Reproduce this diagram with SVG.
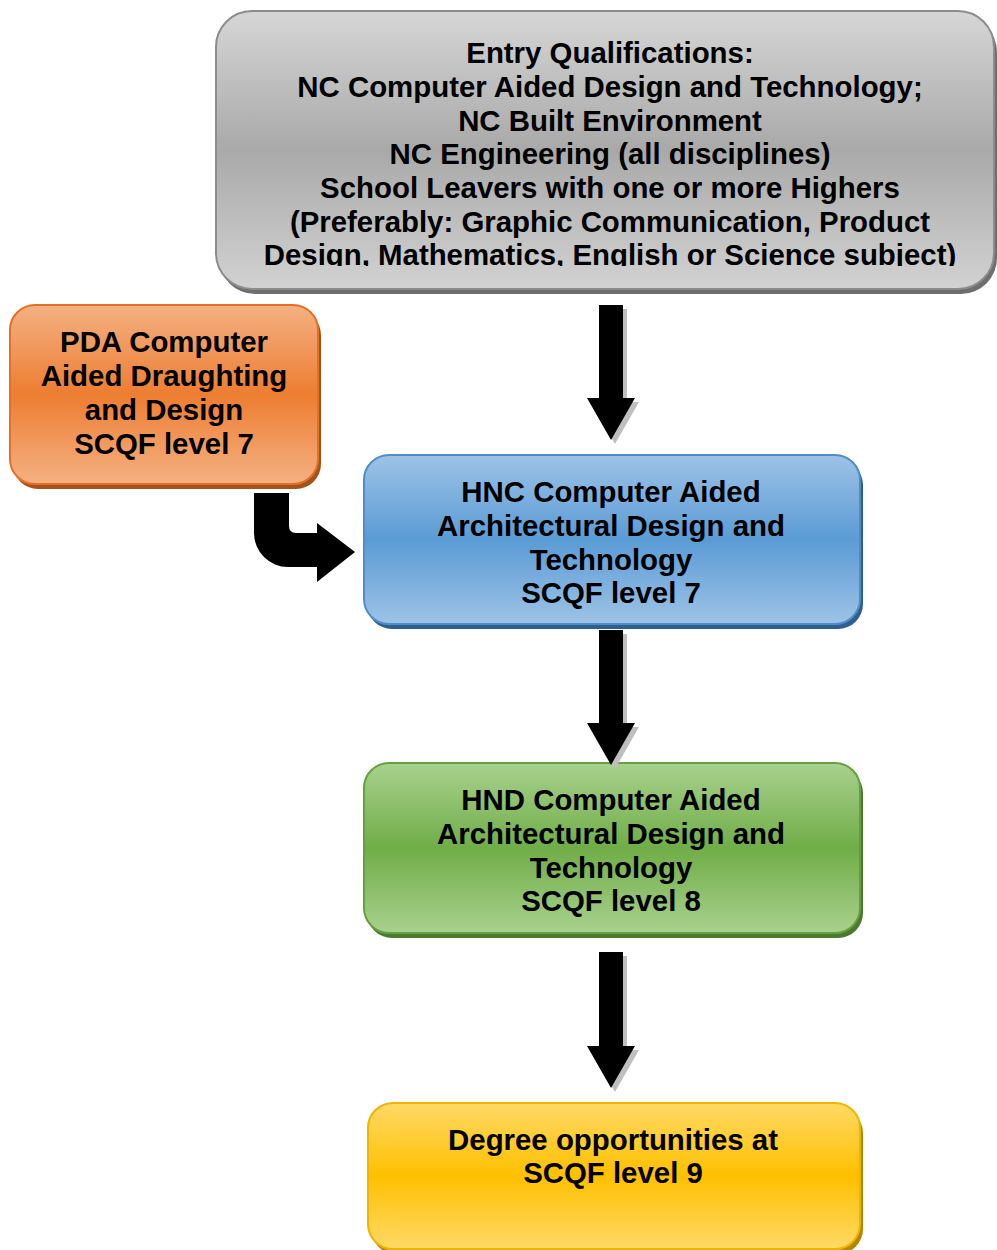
<svg xmlns="http://www.w3.org/2000/svg" width="997" height="1250" viewBox="0 0 997 1250">
<style>
.t{font-family:"Liberation Sans",Arial,sans-serif;font-weight:bold;font-size:29.4px;fill:#000;text-anchor:middle}
.arr{fill:#000}
.ash{fill:#bfbfbf}
</style>
<defs>
<linearGradient id="gGray" x1="0" y1="0" x2="0" y2="1">
<stop offset="0" stop-color="#d6d6d6"/><stop offset="0.5" stop-color="#a9a9a9"/><stop offset="1" stop-color="#d2d2d2"/>
</linearGradient>
<linearGradient id="gOrange" x1="0" y1="0" x2="0" y2="1">
<stop offset="0" stop-color="#f4b183"/><stop offset="0.5" stop-color="#ed7d31"/><stop offset="1" stop-color="#f4b183"/>
</linearGradient>
<linearGradient id="gBlue" x1="0" y1="0" x2="0" y2="1">
<stop offset="0" stop-color="#9dc3e6"/><stop offset="0.5" stop-color="#5b9bd5"/><stop offset="1" stop-color="#9dc3e6"/>
</linearGradient>
<linearGradient id="gGreen" x1="0" y1="0" x2="0" y2="1">
<stop offset="0" stop-color="#a9d18e"/><stop offset="0.5" stop-color="#70ad47"/><stop offset="1" stop-color="#a9d18e"/>
</linearGradient>
<linearGradient id="gYellow" x1="0" y1="0" x2="0" y2="1">
<stop offset="0" stop-color="#ffd966"/><stop offset="0.5" stop-color="#ffc000"/><stop offset="1" stop-color="#ffd966"/>
</linearGradient>
<clipPath id="clipTop"><rect x="216" y="11" width="781" height="255"/></clipPath>
</defs>

<g id="entry">
<rect x="219" y="16" width="778" height="278" rx="36" fill="#6e6e6e"/>
<rect x="216" y="11" width="778" height="278" rx="36" fill="url(#gGray)" stroke="#8c8c8c" stroke-width="2"/>
<g clip-path="url(#clipTop)">
<text class="t" x="610" y="63">Entry Qualifications:</text>
<text class="t" x="610" y="97">NC Computer Aided Design and Technology;</text>
<text class="t" x="610" y="130.5">NC Built Environment</text>
<text class="t" x="610" y="164">NC Engineering (all disciplines)</text>
<text class="t" x="610" y="198">School Leavers with one or more Highers</text>
<text class="t" x="610" y="231.5">(Preferably: Graphic Communication, Product</text>
<text class="t" x="610" y="265">Design, Mathematics, English or Science subject)</text>
</g>
</g>

<g id="pda">
<rect x="13" y="310" width="308" height="179" rx="25" fill="#a4531c"/>
<rect x="10" y="305" width="308" height="179" rx="25" fill="url(#gOrange)" stroke="#e46f25" stroke-width="2"/>
<text class="t" x="164" y="352">PDA Computer</text>
<text class="t" x="164" y="386">Aided Draughting</text>
<text class="t" x="164" y="420">and Design</text>
<text class="t" x="164" y="454">SCQF level 7</text>
</g>

<g id="hnc">
<rect x="367" y="460" width="496" height="169" rx="25" fill="#2e5f8e"/>
<rect x="364" y="455" width="496" height="169" rx="25" fill="url(#gBlue)" stroke="#4f8cc9" stroke-width="2"/>
<text class="t" x="611" y="502">HNC Computer Aided</text>
<text class="t" x="611" y="536">Architectural Design and</text>
<text class="t" x="611" y="570">Technology</text>
<text class="t" x="611" y="603">SCQF level 7</text>
</g>

<g id="hnd">
<rect x="367" y="768" width="496" height="170" rx="25" fill="#4b7a2e"/>
<rect x="364" y="763" width="496" height="170" rx="25" fill="url(#gGreen)" stroke="#65a040" stroke-width="2"/>
<text class="t" x="611" y="810">HND Computer Aided</text>
<text class="t" x="611" y="844">Architectural Design and</text>
<text class="t" x="611" y="878">Technology</text>
<text class="t" x="611" y="911">SCQF level 8</text>
</g>

<g id="degree">
<rect x="371" y="1108" width="492" height="146" rx="25" fill="#b38600"/>
<rect x="368" y="1103" width="492" height="146" rx="25" fill="url(#gYellow)" stroke="#f0b400" stroke-width="2"/>
<text class="t" x="613" y="1150">Degree opportunities at</text>
<text class="t" x="613" y="1183">SCQF level 9</text>
</g>

<g id="connectors">
<path class="ash" d="M603,309 H627 V402 H639 L615,444 L591,402 H603 Z"/>
<path class="arr" d="M599,305 H623 V398 H635 L611,440 L587,398 H599 Z"/>
<path class="ash" d="M603,634 H627 V727 H639 L615,769 L591,727 H603 Z"/>
<path class="arr" d="M599,630 H623 V723 H635 L611,765 L587,723 H599 Z"/>
<path class="ash" d="M603,956 H627 V1050 H639 L615,1092 L591,1050 H603 Z"/>
<path class="arr" d="M599,952 H623 V1046 H635 L611,1088 L587,1046 H599 Z"/>
<path class="arr" d="M254,493 H289 V526 Q289,533 296,533 H317 V523 L355,552 L317,582 V567 H288 A34,34 0 0 1 254,533 Z"/>
</g>
</svg>
